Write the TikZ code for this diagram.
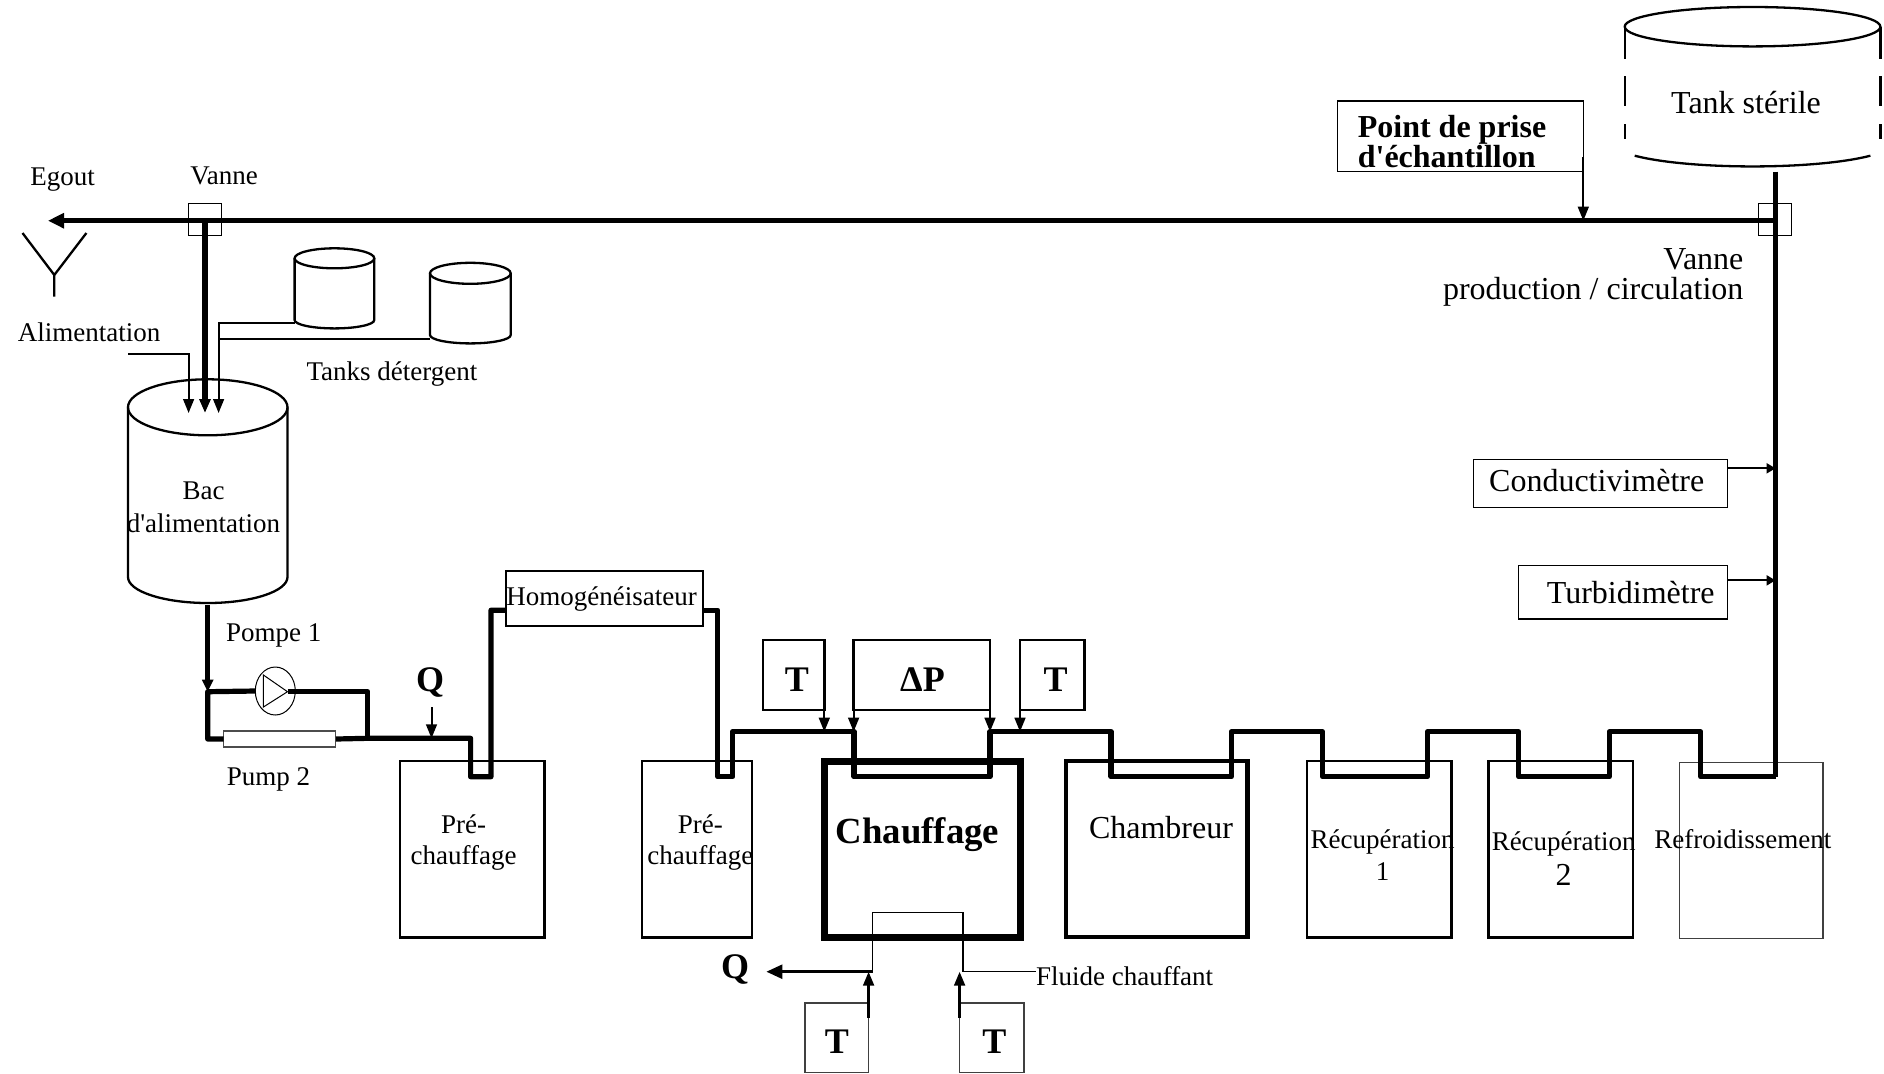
\documentclass[tikz,border=0pt]{standalone}
\usepackage{fontspec}
\setmainfont[Ligatures=TeXOff]{Liberation Serif}
\usetikzlibrary{arrows.meta,shapes.geometric}
\tikzset{
  box/.style 2 args={draw,line width=1.2pt,inner sep=0pt,outer sep=0pt,anchor=north west,
    minimum width=#1*0.5pt,minimum height=#2*0.5pt},
  lab/.style={inner sep=0pt,outer sep=0pt,align=center,font=\fontsize{13.5}{16}\selectfont},
  labbig/.style={lab,font=\fontsize{16}{16}\selectfont},
  labbold/.style={lab,font=\fontsize{18}{18}\selectfont\bfseries},
  pipe/.style={line width=2.6pt,line join=round},
  duct/.style={line width=1.15pt},
  smalltip/.style={line width=1pt,-{Triangle[length=7pt,width=5.4pt]}},
  sidetip/.style={line width=1.1pt,-{Triangle[length=4.5pt,width=5pt]}},
  pipetip/.style={pipe,-{Triangle[length=8pt,width=7.3pt]}},
}
\begin{document}
\begin{tikzpicture}[x=0.5pt,y=-0.5pt]
    \useasboundingbox (0,0) rectangle (1884,1073);

    % Define the pipe points
    \coordinate (top) at (0,731.7);
    \coordinate (egt) at (48,220.7);
    \coordinate (mainR) at (1775.5,220.7);
    \coordinate (steril) at (1775.5,171.7);
    \coordinate (sample) at (1583.3,220.7);
    \coordinate (dipAl) at (470.6,776.7);
    \coordinate (dipAr) at (491,776.7);
    \coordinate (dipBl) at (717.8,776.7);
    \coordinate (dipBr) at (732.8,776.7);
    \coordinate (dipCl) at (854,776.7);
    \coordinate (dipCr) at (990,776.7);
    \coordinate (dipDl) at (1111,776.7);
    \coordinate (dipDr) at (1231.4,776.7);
    \coordinate (dipEl) at (1322.4,776.7);
    \coordinate (dipEr) at (1427.5,776.7);
    \coordinate (dipFl) at (1518.8,776.7);
    \coordinate (dipFr) at (1609.4,776.7);
    \coordinate (dipGl) at (1700.6,776.7);
    \coordinate (dipGr) at (1775.5,776.7);
    \coordinate (bacOut) at (207.7,605);
    \coordinate (junc) at (207.7,691.7);
    \coordinate (merge) at (367.8,738.3);
    \coordinate (pumpTip) at (287.5,691.7);
    \coordinate (qArrow) at (431.5,707);

    % Draw the process boxes
    \node[box={144.6}{176.3}] (preA) at (400,761) {};
    \node[box={110.2}{176.3}] (preB) at (641.8,761) {};
    \node[box={195.7}{176},line width=3.5pt] (chauf) at (824.3,761) {};
    \node[box={181.8}{176},line width=2.2pt] (chamb) at (1065.7,761) {};
    \node[box={144.4}{176.3}] (recA) at (1307,761) {};
    \node[box={144.5}{176.3}] (recB) at (1488.4,761) {};
    \node[box={143.5}{176},line width=0.7pt,draw=black!75] (refr) at (1679.5,762.7) {};
    \node[box={197}{55}] (homog) at (506,570.7) {};

    % Draw the measuring boxes
    \node[box={61.4}{70}] (tL) at (762.9,640) {};
    \node[box={136.4}{70}] (dP) at (853.6,640) {};
    \node[box={64.3}{70}] (tR) at (1020,640) {};
    \node[box={63.6}{69.6},line width=0.8pt,draw=black!75] (tBL) at (805,1002.7) {};
    \node[box={64.4}{69.6},line width=0.8pt,draw=black!75] (tBR) at (959.6,1002.7) {};
    \node[box={246}{70.7},line width=0.6pt] (point) at (1337.3,101) {};
    \node[box={254}{48},line width=0.7pt] (cond) at (1473.3,459.3) {};
    \node[box={208.6}{53.7},line width=0.7pt] (turb) at (1518.7,565.3) {};
    \node[box={32.8}{32.4},line width=0.7pt] (vanL) at (188.6,203.3) {};
    \node[box={32.4}{32},line width=0.5pt] (vanR) at (1758.8,203.3) {};

    % Draw the two pumps
    \node[draw,ellipse,line width=0.5pt,inner sep=0pt,outer sep=0pt,minimum width=20pt,minimum height=24pt] (pump) at (275.3,691) {};
    \node[box={112.3}{16},line width=0.6pt,draw=black!70] (pumpB) at (223.5,731) {};
    \coordinate (triA) at (263.4,675);
    \coordinate (triB) at (263.4,707);
    \draw[line width=0.5pt] (triA) -- (pumpTip) -- (triB) -- cycle;

    % Draw the tanks
    \draw[duct] (207.75,407.3) ellipse [x radius=79.75, y radius=28];
    \draw[duct] (128,407.3) -- (128,577) arc [start angle=180, end angle=360, x radius=39.875pt, y radius=13pt] -- (287.5,407.3);
    \draw[duct] (334.45,258.3) ellipse [x radius=39.85, y radius=10];
    \draw[duct] (294.6,258.3) -- (294.6,320) arc [start angle=180, end angle=360, x radius=19.925pt, y radius=4.2pt] -- (374.3,258.3);
    \draw[duct] (470.35,273.3) ellipse [x radius=40.35, y radius=10.5];
    \draw[duct] (430,273.3) -- (430,335) arc [start angle=180, end angle=360, x radius=20.175pt, y radius=4.2pt] -- (510.7,273.3);
    \draw[duct] (1752.55,26.7) ellipse [x radius=127.85, y radius=19.7];
    \draw[duct] (1624.7,26.7) -- (1624.7,59.3) (1624.7,76) -- (1624.7,106) (1624.7,124) -- (1624.7,139.3);
    \draw[duct] (1880.4,26.7) -- (1880.4,59.3) (1880.4,76) -- (1880.4,106) (1880.4,124) -- (1880.4,139.3);
    \draw[duct] (1634.7,155.7) .. controls (1690,170) and (1815,170) .. (1870.4,155.7);

    % Draw the sewer
    \coordinate (ya) at (22.5,233);
    \coordinate (yb) at (54.3,275);
    \coordinate (yc) at (86.4,233);
    \coordinate (yd) at (54.3,296.7);
    \draw[duct] (ya) -- (yb) -- (yc) (yb) -- (yd);

    % Draw the main line
    \draw[pipetip] (mainR) -- (egt);
    \draw[pipe] (steril) -- (dipGr);
    \draw[pipe,-{Triangle[length=7pt,width=5.4pt]}] (vanL.center |- egt) -- (vanL.center |- 0,413);

    % Draw the feed of the tank
    \coordinate (alimA) at (128,354);
    \coordinate (alimB) at (188.6,413);
    \coordinate (detB) at (218.6,413);
    \coordinate (tkA) at (294.6,323.3);
    \coordinate (tkB) at (430,338.7);
    \draw[smalltip] (alimA) -| (alimB);
    \draw[smalltip] (tkA) -| (detB);
    \draw[line width=1pt] (tkB) -- (tkB -| detB);

    % Draw the line through the pumps and the heaters
    \draw[pipe,-{Triangle[length=6pt,width=5.4pt]}] (bacOut) -- (junc);
    \draw[pipe] (pump.west) -- (junc) -- (junc |- pumpB.west) -- (pumpB.west);
    \draw[pipe] (pumpTip) -| (merge);
    \draw[pipe] (pumpB.east) -- (merge) -- (dipAl |- merge) -- (dipAl) -- (dipAr) |- ([yshift=-6pt]homog.west);
    \draw[pipe] ([yshift=-6pt]homog.east) -| (dipBl) -- (dipBr) -- (dipBr |- top) -- (dipCl |- top) -- (dipCl) -- (dipCr)
      -- (dipCr |- top) -- (dipDl |- top) -- (dipDl) -- (dipDr) -- (dipDr |- top) -- (dipEl |- top) -- (dipEl) -- (dipEr)
      -- (dipEr |- top) -- (dipFl |- top) -- (dipFl) -- (dipFr) -- (dipFr |- top) -- (dipGl |- top) -- (dipGl) -- (dipGr);

    % Draw the arrows of the sensors
    \draw[smalltip] (qArrow) -- (qArrow |- merge);
    \draw[smalltip] (tL.south east) -- (tL.south east |- top);
    \draw[smalltip] (dP.south west) -- (dP.south west |- top);
    \draw[smalltip] (dP.south east) -- (dP.south east |- top);
    \draw[smalltip] (tR.south west) -- (tR.south west |- top);
    \draw[smalltip] ([yshift=7.5pt]point.south east) -- (sample);
    \draw[sidetip] ([yshift=7.5pt]cond.east) -- ([yshift=7.5pt]cond.east -| mainR);
    \draw[sidetip] ([yshift=5.9pt]turb.east) -- ([yshift=5.9pt]turb.east -| mainR);

    % Draw the heating fluid
    \coordinate (hotIn) at (872.5,971.7);
    \coordinate (hotL) at (872.5,912.3);
    \coordinate (hotR) at (962.9,912.3);
    \coordinate (hotOut) at (962.9,971.7);
    \coordinate (qOut) at (766.4,971.7);
    \node[lab,anchor=west] (fluide) at (1036,975.7) {Fluide chauffant};
    \draw[line width=0.7pt] (hotIn) -- (hotL) -- (hotR) -- (hotOut) -- (hotOut -| fluide.west);
    \draw[line width=1.3pt,-{Triangle[length=8pt,width=7pt]}] (hotIn) -- (qOut);
    \draw[line width=1.3pt,-{Triangle[length=7pt,width=5.4pt]}] ([yshift=-7.5pt]tBL.north east) -- (tBL.north east |- hotIn);
    \draw[line width=1.3pt,-{Triangle[length=7pt,width=5.4pt]}] ([yshift=-7.5pt]tBR.north west) -- (tBR.north west |- hotIn);

    % Write the labels
    \node[lab] (egoutL) at (62.5,180) {Egout};
    \node[lab] (vanneL) at (224,176) {Vanne};
    \node[lab] (alimL) at (89,332) {Alimentation};
    \node[lab] (tanksL) at (392,374.4) {Tanks détergent};
    \node[lab,font=\fontsize{13.5}{16.5}\selectfont] (bacL) at (203.5,507.5) {Bac\\d'alimentation};
    \node[lab] (pompeL) at (273.7,635) {Pompe 1};
    \node[lab] (pumpL) at (268.6,779) {Pump 2};
    \node[lab] (homogL) at (601.5,598.7) {Homogénéisateur};
    \node[lab,font=\fontsize{13.5}{15.5}\selectfont] (preAL) at (463.5,842.4) {Pré-\\chauffage};
    \node[lab,font=\fontsize{13.5}{15.5}\selectfont] (preBL) at (700.4,842.4) {Pré-\\chauffage};
    \node[labbold,font=\fontsize{18.4}{18}\selectfont\bfseries] (chaufL) at (917.5,834.3) {Chauffage};
    \node[labbig] (chambL) at (1161,828) {Chambreur};
    \node[lab] (recAL) at (1382.5,855) {Récupération\\1};
    \node[lab] (recBL) at (1563.7,858.5) {Récupération\\[1.5pt]{\fontsize{16}{16}\selectfont 2}};
    \node[lab] (refrL) at (1742.8,839) {Refroidissement};
    \node[labbig] (tankL) at (1746,102.7) {Tank stérile};
    \node[labbig,font=\fontsize{16}{15}\selectfont\bfseries,anchor=west,align=left] (pointL) at (1357.8,141.5) {Point de prise\\d'échantillon};
    \node[lab,font=\fontsize{16}{15}\selectfont,anchor=east,align=right] (vanRL) at (1743.4,277.5) {Vanne\\production / circulation};
    \node[labbig] (condL) at (1596.7,480.7) {Conductivimètre};
    \node[labbig] (turbL) at (1630.7,592.3) {Turbidimètre};
    \node[labbold] (qA) at (430,682.7) {Q};
    \node[labbold] (qB) at (735,969) {Q};
    \node[labbold] (tLL) at (796.8,680) {T};
    \node[labbold] (dPL) at (922.5,680) {ΔP};
    \node[labbold] (tRL) at (1055.7,680) {T};
    \node[labbold] (tBLL) at (836.8,1041.7) {T};
    \node[labbold] (tBRL) at (994.3,1041.7) {T};
\end{tikzpicture}
\end{document}
